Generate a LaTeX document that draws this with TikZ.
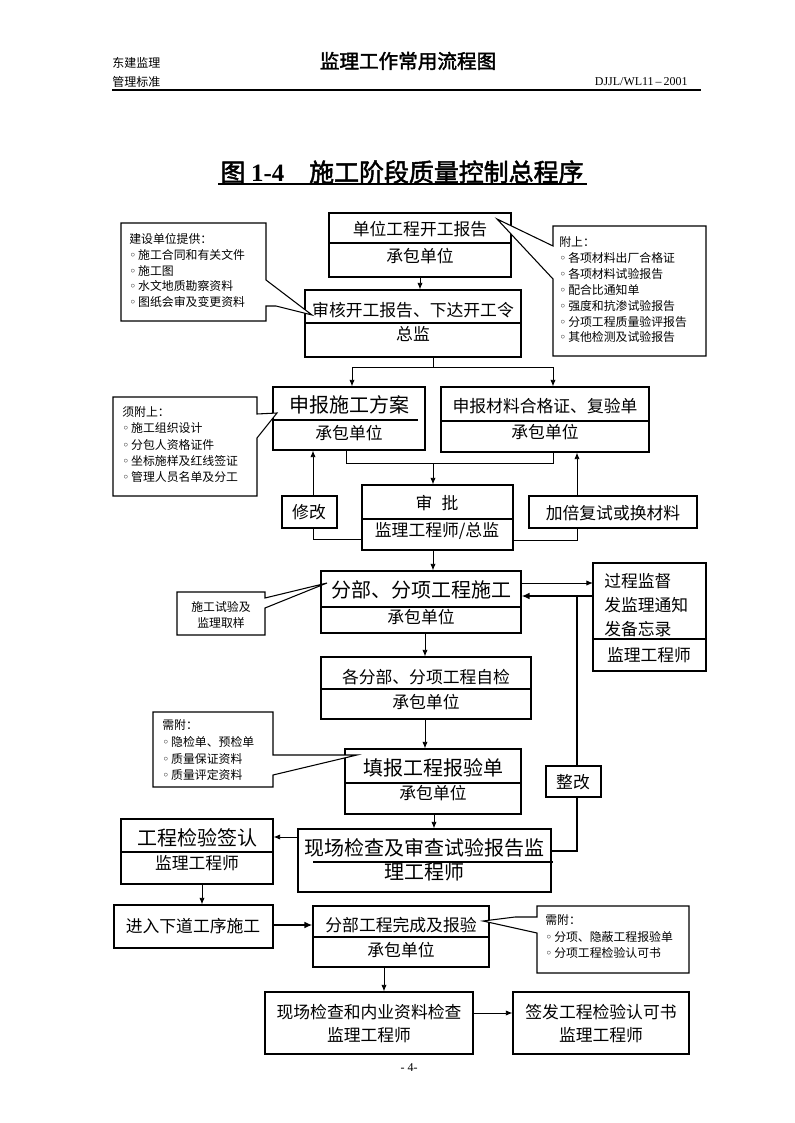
\documentclass[tikz,border=0pt]{standalone}
\usepackage{fontspec}
\setmainfont{Noto Sans CJK SC}
\newfontfamily\tnr{Liberation Serif}
\newfontfamily\cjkbold[FakeBold=2]{Noto Sans CJK SC}
\newfontfamily\dvs{DejaVu Sans}
\usetikzlibrary{arrows.meta,fit}
\newcommand\bul{{\dvs ◦}\,}
\tikzset{
  box/.style={draw, line width=0.8pt, inner sep=0pt},
  callout/.style={draw, line width=0.8pt, fill=white},
  divl/.style={line width=0.8pt},
  conn/.style={line width=0.7pt},
  arr/.style={-{Latex[length=5pt,width=4pt]}, line width=0.7pt},
  thickarr/.style={-{Latex[length=6pt,width=5pt]}, line width=1.4pt},
  ftsmall/.style={font=\fontsize{8.9pt}{11.9pt}\selectfont},
  ftmed/.style={font=\fontsize{12.6pt}{15pt}\selectfont},
  ftbig/.style={font=\fontsize{15pt}{18pt}\selectfont},
  lbl/.style={inner sep=0pt},
}
\newcommand\bx[5]{\node[box, fit={(#2,#3) (#4,#5)}] (#1) {};}
\begin{document}
\begin{tikzpicture}[x=0.75pt,y=-0.75pt]
\useasboundingbox (0,0) rectangle (794,1123);
% header
\node[lbl, anchor=west, font=\fontsize{9pt}{11pt}\selectfont] (h1) at (112,63) {东建监理};
\node[lbl, anchor=west, font=\fontsize{9pt}{11pt}\selectfont] (h2) at (112,82) {管理标准};
\node[lbl, font=\fontsize{14.7pt}{17pt}\cjkbold] (h3) at (408,61) {监理工作常用流程图};
\node[lbl, anchor=east, font=\fontsize{9pt}{11pt}\tnr] (h4) at (688,82) {DJJL/WL11\,–\,2001};
\draw[line width=1pt] (112,90) -- (701,90);
% title
\node[lbl, font=\fontsize{18.7pt}{22pt}\cjkbold] (title) at (402,172) {图 {\tnr\bfseries 1-4}　施工阶段质量控制总程序};
\draw[line width=1pt] (218,184) -- (587,184);

% ---- boxes ----
\bx{b1}{329}{213}{511}{277}
\draw[divl] (329,243) -- (511,243);
\node[lbl, ftmed] (b1a) at (420,229) {单位工程开工报告};
\node[lbl, ftmed] (b1b) at (420,256) {承包单位};

\bx{b2}{305}{290}{521}{357}
\draw[divl] (305,323) -- (521,323);
\node[lbl, ftmed] (b2a) at (413,310) {审核开工报告、下达开工令};
\node[lbl, ftmed] (b2b) at (413,334) {总监};

\bx{b3}{273}{387}{425}{450}
\draw[divl] (273,420) -- (418,420);
\node[lbl, ftbig] (b3a) at (349,405) {申报施工方案};
\node[lbl, ftmed] (b3b) at (349,433) {承包单位};

\bx{b4}{441}{387}{649}{452}
\draw[divl] (441,421) -- (649,421);
\node[lbl, ftmed] (b4a) at (545,406) {申报材料合格证、复验单};
\node[lbl, ftmed] (b4b) at (545,432) {承包单位};

\bx{bsp}{362}{485}{513}{550}
\draw[divl] (362,519) -- (513,519);
\node[lbl, ftmed] (bspa) at (437,503) {审\hspace{7pt}批};
\node[lbl, ftmed] (bspb) at (437,531) {监理工程师/总监};

\bx{bxg}{282}{496}{337}{528}
\node[lbl, ftmed] (bxga) at (309,512) {修改};

\bx{bjb}{529}{496}{697}{528}
\node[lbl, ftmed] (bjba) at (613,513) {加倍复试或换材料};

\bx{b5}{321}{571}{521}{633}
\draw[divl] (321,607) -- (521,607);
\node[lbl, ftbig] (b5a) at (421,590) {分部、分项工程施工};
\node[lbl, ftmed] (b5b) at (421,617) {承包单位};

\bx{bgc}{593}{563}{706}{671}
\draw[divl] (593,639) -- (706,639);
\node[ftmed, align=left, anchor=north west, inner sep=0pt, font=\fontsize{12.6pt}{18pt}\selectfont] (bgca) at (604,573.5) {过程监督\\发监理通知\\发备忘录};
\node[lbl, ftmed] (bgcb) at (649,655) {监理工程师};

\bx{b6}{321}{657}{531}{719}
\draw[divl] (321,689) -- (531,689);
\node[lbl, ftmed] (b6a) at (426,677) {各分部、分项工程自检};
\node[lbl, ftmed] (b6b) at (426,702) {承包单位};

\bx{b7}{345}{749}{521}{814}
\draw[divl] (345,783) -- (521,783);
\node[lbl, ftbig] (b7a) at (433,768) {填报工程报验单};
\node[lbl, ftmed] (b7b) at (433,793) {承包单位};

\bx{bzg}{546}{766}{601}{797}
\node[lbl, ftmed] (bzga) at (573,782) {整改};

\bx{b8}{298}{829}{551}{892}
\draw[divl] (313,862) -- (553,862);
\node[lbl, ftbig] (b8a) at (424,848) {现场检查及审查试验报告监};
\node[lbl, ftbig] (b8b) at (424,872) {理工程师};

\bx{b9}{121}{819}{273}{884}
\draw[divl] (121,852) -- (273,852);
\node[lbl, ftbig] (b9a) at (197,838) {工程检验签认};
\node[lbl, ftmed] (b9b) at (197,863) {监理工程师};

\bx{b10}{114}{905}{273}{948}
\node[lbl, ftmed] (b10a) at (193,926) {进入下道工序施工};

\bx{b11}{313}{906}{489}{967}
\draw[divl] (313,937) -- (489,937);
\node[lbl, ftmed] (b11a) at (401,925) {分部工程完成及报验};
\node[lbl, ftmed] (b11b) at (401,950) {承包单位};

\bx{b12}{265}{992}{473}{1054}
\node[lbl, ftmed] (b12a) at (369,1012) {现场检查和内业资料检查};
\node[lbl, ftmed] (b12b) at (369,1035) {监理工程师};

\bx{b13}{513}{992}{689}{1054}
\node[lbl, ftmed] (b13a) at (601,1012) {签发工程检验认可书};
\node[lbl, ftmed] (b13b) at (601,1035) {监理工程师};

% ---- callouts ----
\draw[callout] (121,223) -- (266,223) -- (266,280) -- (312,315) -- (276,306) -- (266,306) -- (266,321) -- (121,321) -- cycle;
\node[ftsmall, align=left, anchor=north west, inner sep=0pt] (c1) at (129,233) {建设单位提供：\\\bul 施工合同和有关文件\\\bul 施工图\\\bul 水文地质勘察资料\\\bul 图纸会审及变更资料};

\draw[callout] (553,226) -- (706,226) -- (706,356) -- (553,356) -- (553,279) -- (497,219) -- (553,246) -- cycle;
\node[ftsmall, align=left, anchor=north west, inner sep=0pt] (c2) at (559,236.5) {附上：\\\bul 各项材料出厂合格证\\\bul 各项材料试验报告\\\bul 配合比通知单\\\bul 强度和抗渗试验报告\\\bul 分项工程质量验评报告\\\bul 其他检测及试验报告};

\draw[callout] (113,397) -- (257,397) -- (257,414) -- (277,413) -- (257,438) -- (257,496) -- (113,496) -- cycle;
\node[align=left, anchor=north west, inner sep=0pt, font=\fontsize{8.9pt}{12.2pt}\selectfont] (c3) at (122,406.5) {须附上：\\\bul 施工组织设计\\\bul 分包人资格证件\\\bul 坐标施样及红线签证\\\bul 管理人员名单及分工};

\draw[callout] (177,592) -- (265,592) -- (265,598) -- (327,583) -- (265,608) -- (265,635) -- (177,635) -- cycle;
\node[align=center, anchor=north, inner sep=0pt, font=\fontsize{8.9pt}{12pt}\selectfont] (c4) at (221,601) {施工试验及\\监理取样};

\draw[callout] (153,712) -- (273,712) -- (273,755) -- (357,755) -- (273,775) -- (273,787) -- (153,787) -- cycle;
\node[align=left, anchor=north west, inner sep=0pt, font=\fontsize{8.9pt}{12.5pt}\selectfont] (c5) at (162,719.5) {需附：\\\bul 隐检单、预检单\\\bul 质量保证资料\\\bul 质量评定资料};

\draw[callout] (537,906) -- (689,906) -- (689,973) -- (537,973) -- (537,933) -- (483,921) -- (515,917) -- (537,917) -- cycle;
\node[align=left, anchor=north west, inner sep=0pt, font=\fontsize{8.9pt}{12.4pt}\selectfont] (c6) at (545,914.5) {需附：\\\bul 分项、隐蔽工程报验单\\\bul 分项工程检验认可书};

% ---- connectors ----
\draw[arr] (b1.south) -- (b1.south |- b2.north);
\coordinate (j1) at (433,367);
\coordinate (j1l) at (352,367);
\coordinate (j1r) at (553,367);
\draw[conn] (b2.south -| j1) -- (j1);
\draw[conn] (j1l) -- (j1r);
\draw[arr] (j1l) -- (j1l |- b3.north);
\draw[arr] (j1r) -- (j1r |- b4.north);

\coordinate (j2l) at (346,463);
\coordinate (j2r) at (553,463);
\coordinate (j2) at (433,463);
\draw[conn] (b3.south -| j2l) -- (j2l) -- (j2r) -- (b4.south -| j2r);
\draw[arr] (j2) -- (j2 |- bsp.north);

\coordinate (j3) at (313,539);
\draw[conn] (bsp.west |- j3) -- (j3) -- (bxg.south -| j3);
\draw[arr] (bxg.north -| j3) -- (b3.south -| j3);
\coordinate (j4) at (577,540);
\draw[conn] (bsp.east |- j4) -- (j4) -- (bjb.south -| j4);
\draw[arr] (bjb.north -| j4) -- (b4.south -| j4);

\draw[arr] (bsp.south -| j2) -- (b5.north -| j2);

\coordinate (j5) at (593,583);
\draw[arr] (b5.east |- j5) -- (j5);
\coordinate (j6) at (577,596);
\draw[thickarr] (bgc.west |- j6) -- (b5.east |- j6);
\draw[line width=1pt] (j6) -- (bzg.north -| j6);
\coordinate (j7) at (577,851);
\draw[line width=1pt] (bzg.south -| j7) -- (j7) -- (b8.east |- j7);

\coordinate (j8) at (425,640);
\draw[arr] (b5.south -| j8) -- (b6.north -| j8);
\draw[arr] (b6.south -| j8) -- (b7.north -| j8);
\coordinate (j9) at (434,820);
\draw[arr] (b7.south -| j9) -- (b8.north -| j9);
\coordinate (j10) at (290,837);
\draw[arr] (b8.west |- j10) -- (b9.east |- j10);
\coordinate (j11) at (202,890);
\draw[arr] (b9.south -| j11) -- (b10.north -| j11);
\coordinate (j12) at (290,925);
\draw[thickarr] (b10.east |- j12) -- (b11.west |- j12);
\coordinate (j13) at (384,980);
\draw[arr] (b11.south -| j13) -- (b12.north -| j13);
\coordinate (j14) at (490,1013);
\draw[arr] (b12.east |- j14) -- (b13.west |- j14);

% footer
\node[lbl, font=\fontsize{9pt}{11pt}\tnr] (foot) at (409,1068) {- 4-};
\end{tikzpicture}
\end{document}
